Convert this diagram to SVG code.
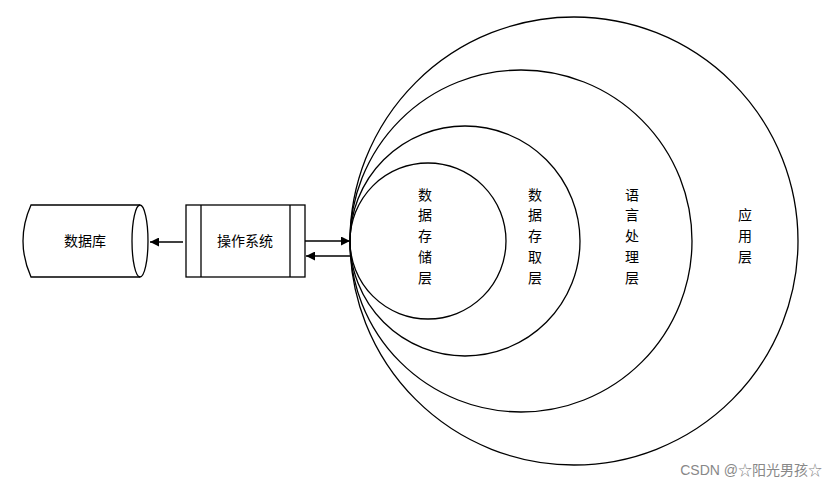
<svg xmlns="http://www.w3.org/2000/svg" width="837" height="489" viewBox="0 0 837 489">
<style>
.s{fill:#fff;stroke:#000;stroke-width:1.3}
.c{fill:none;stroke:#000;stroke-width:1.3}
.t{font-family:"Liberation Sans","Noto Sans CJK SC",sans-serif;font-size:14px;fill:#000;text-anchor:middle}
.l{stroke:#000;stroke-width:1.3;fill:none}
</style>
<defs><marker id="a" viewBox="0 0 10 10" refX="10" refY="5" markerWidth="9" markerHeight="9" markerUnits="userSpaceOnUse" orient="auto"><path d="M0,0L10,5L0,10z" fill="#000"/></marker></defs>
<rect width="837" height="489" fill="#fff"/>
<g id="layers">
<circle class="c" cx="574" cy="241" r="224"/>
<circle class="c" cx="521" cy="241" r="171"/>
<circle class="c" cx="465" cy="241" r="115"/>
<circle class="c" cx="428" cy="241" r="78"/>
</g>
<g id="l1"><text class="t" x="425"><tspan x="425" y="200">数</tspan><tspan x="425" y="220">据</tspan><tspan x="425" y="241">存</tspan><tspan x="425" y="262">储</tspan><tspan x="425" y="283">层</tspan></text></g>
<g id="l2"><text class="t"><tspan x="535" y="200">数</tspan><tspan x="535" y="220">据</tspan><tspan x="535" y="241">存</tspan><tspan x="535" y="262">取</tspan><tspan x="535" y="283">层</tspan></text></g>
<g id="l3"><text class="t"><tspan x="632" y="200">语</tspan><tspan x="632" y="220">言</tspan><tspan x="632" y="241">处</tspan><tspan x="632" y="262">理</tspan><tspan x="632" y="283">层</tspan></text></g>
<g id="l4"><text class="t"><tspan x="745" y="220">应</tspan><tspan x="745" y="241">用</tspan><tspan x="745" y="262">层</tspan></text></g>
<g id="db">
<path class="s" d="M31,205 L140,205 A8,36 0 0 1 140,277 L31,277 Q15,241 31,205 Z"/>
<path class="c" d="M140,205 A8,36 0 0 0 140,277"/>
<text class="t" x="85" y="246">数据库</text>
</g>
<g id="os">
<rect class="s" x="186" y="205" width="119" height="72"/>
<line class="l" x1="201" y1="205" x2="201" y2="277"/>
<line class="l" x1="290" y1="205" x2="290" y2="277"/>
<text class="t" x="245" y="246">操作系统</text>
</g>
<g id="connectors">
<line class="l" x1="183" y1="242" x2="150" y2="242" marker-end="url(#a)"/>
<line class="l" x1="305" y1="241" x2="350" y2="241" marker-end="url(#a)"/>
<line class="l" x1="350" y1="256" x2="306" y2="256" marker-end="url(#a)"/>
</g>
<text x="822" y="475" style="font-family:'Liberation Sans','Noto Sans CJK SC',sans-serif;font-size:14px;fill:#888;text-anchor:end">CSDN @☆阳光男孩☆</text>
</svg>
